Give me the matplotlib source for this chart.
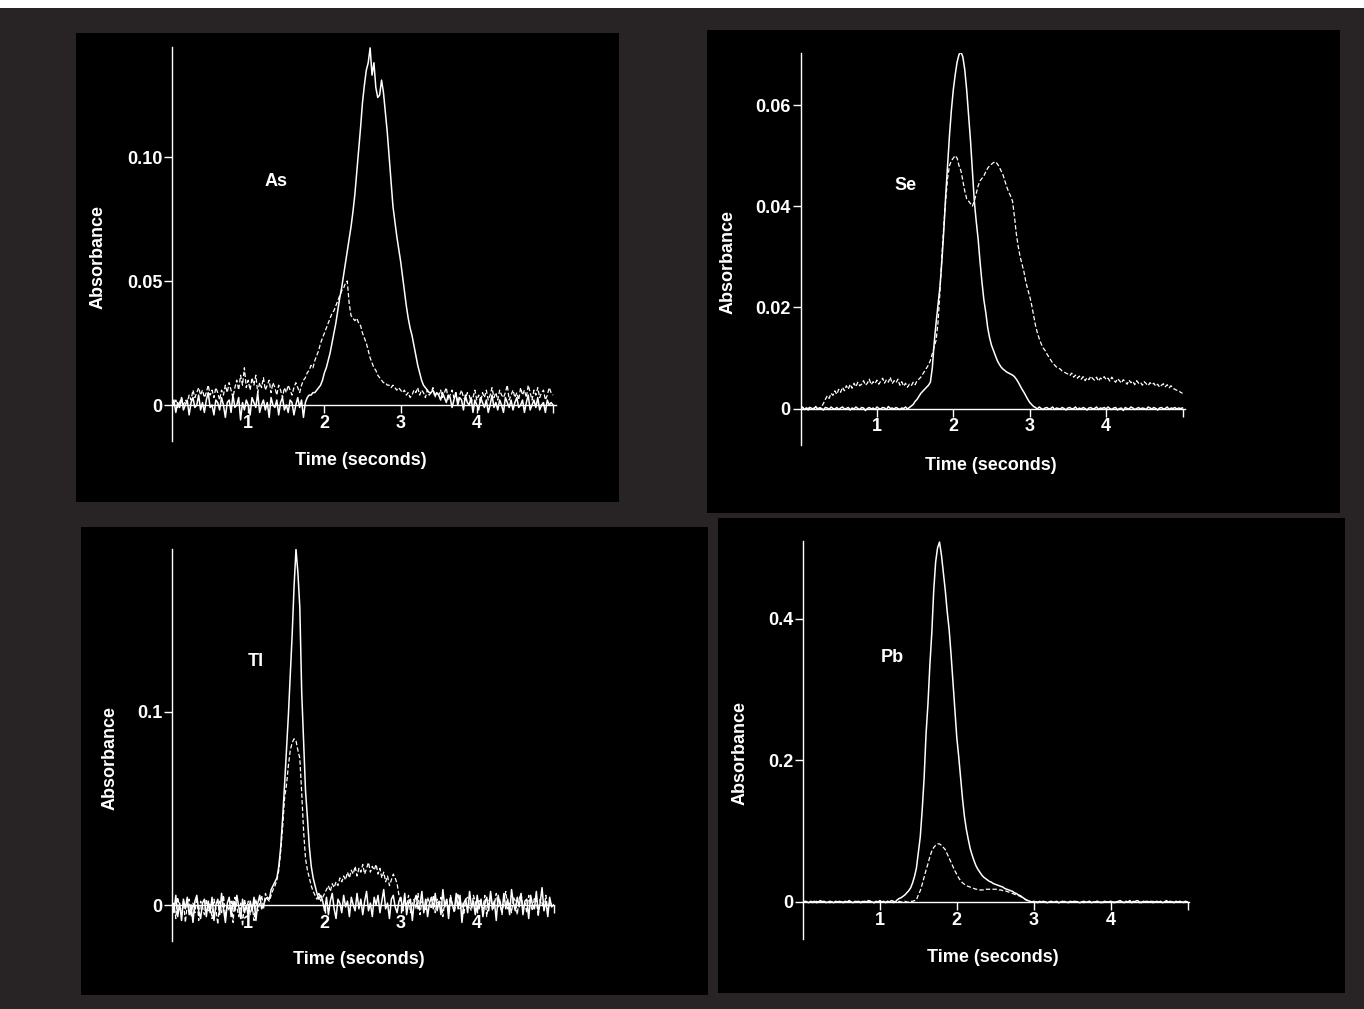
import numpy as np
import matplotlib.pyplot as plt
from matplotlib.patches import Rectangle

# absorbance traces, one reading every 0.025 s from 0 to 5 s
# (each row below = 0.5 s, 20 readings)
DT = 0.025

# As, units of 0.001
as_solid = [
    0, 2, -3, 1, -1, 3, -2, 0, 2, -4, 1, 3, -1, 0, 4, -2, 1, -3, 2, 5,
    -1, 0, -4, 2, 1, -2, 3, 0, -5, 1, 2, -3, 4, -1, 0, 3, -6, 1, -2, 2,
    0, -4, 3, 1, -1, 5, -3, 0, 2, -2, 1, -5, 3, 0, -1, 2, -4, 1, 3, -2,
    0, -3, 2, 1, -4, 0, 3, -1, 2, -5, 1, 3, 4, 4, 5, 5, 6, 7, 8, 10,
    13, 15, 18, 21, 25, 29, 33, 38, 43, 47, 52, 57, 62, 67, 72, 78, 85, 94, 103, 112,
    122, 129, 135, 138, 144, 133, 138, 128, 124, 125, 131, 126, 118, 110, 100, 90, 80, 74, 68, 63,
    58, 52, 46, 40, 35, 31, 28, 24, 20, 16, 13, 10, 8, 7, 6, 5, 5, 6, 4, 5,
    4, 2, 5, 3, 1, 4, 3, -1, 2, 5, 0, 3, 2, -2, 4, 1, 0, 3, -3, 2,
    0, -2, 3, 1, -1, 2, -3, 0, 4, -1, 1, -2, 2, 0, -3, 3, 1, -1, 2, -2,
    1, 3, -1, 0, 2, -3, 1, 4, -2, 0, 2, -1, 3, -2, 0, 1, -3, 2, 0, 1,
    0]
as_dashed = [
    1, 0, 2, -1, 1, 3, 0, 2, 1, 4, 2, 6, 3, 5, 7, 4, 6, 3, 5, 8,
    4, 6, 3, 7, 5, 2, 6, 4, 8, 5, 9, 6, 3, 7, 10, 6, 12, 8, 15, 7,
    10, 6, 11, 8, 12, 5, 9, 7, 11, 6, 8, 10, 5, 9, 7, 4, 8, 6, 3, 7,
    5, 8, 6, 4, 7, 9, 7, 5, 8, 10, 11, 13, 14, 16, 15, 18, 20, 22, 25, 27,
    29, 31, 33, 35, 37, 38, 40, 42, 44, 46, 47, 49, 50, 41, 36, 35, 34, 35, 33, 32,
    29, 27, 25, 22, 19, 17, 15, 14, 12, 11, 10, 9, 9, 8, 8, 7, 8, 7, 6, 7,
    6, 5, 6, 4, 5, 3, 4, 6, 5, 7, 4, 6, 5, 3, 6, 4, 5, 7, 3, 5,
    4, 6, 3, 5, 7, 2, 4, 6, 3, 5, 1, 4, 6, 3, 2, 5, 4, 1, 3, 6,
    2, 4, 1, 5, 3, 6, 2, 4, 7, 3, 5, 2, 6, 4, 3, 5, 8, 2, 4, 6,
    3, 5, 2, 7, 4, 6, 3, 8, 5, 2, 6, 4, 7, 3, 5, 6, 2, 4, 7, 5,
    4]

# Se, units of 0.0001
se_solid = [
    0, 3, -2, 1, -3, 2, 0, -1, 4, -2, 1, 0, -3, 2, 1, -2, 3, 0, -1, 2,
    -2, 1, 3, -1, 0, 2, -3, 1, -1, 3, 0, -2, 2, 1, -4, 0, 2, -1, 1, -2,
    3, 0, -1, 2, 1, -2, 4, 0, 1, -1, 2, 0, -2, 1, 0, 3, -1, 2, 5, 8,
    14, 18, 24, 30, 34, 38, 42, 46, 52, 80, 130, 170, 205, 240, 290, 350, 420, 480, 540, 590,
    630, 660, 685, 700, 705, 695, 670, 630, 580, 530, 470, 410, 370, 335, 290, 250, 215, 190, 160, 140,
    125, 115, 105, 95, 88, 82, 78, 75, 72, 70, 68, 66, 63, 58, 52, 45, 38, 32, 25, 18,
    12, 8, 4, 2, -1, 3, 0, -2, 1, 2, -1, 0, 3, -2, 1, 0, -1, 2, 0, -3,
    1, 2, -1, 0, 3, -2, 1, -1, 2, 0, -3, 1, 2, -1, 0, 3, -2, 1, 0, 2,
    -1, 3, 0, -2, 1, 2, -3, 0, 1, -4, 2, 0, -1, 3, 1, -2, 0, 2, -1, 1,
    0, -2, 3, 1, -1, 2, 0, -3, 1, 2, -1, 0, 3, -2, 1, 0, 2, -1, 1, 0,
    1]
se_dashed = [
    0, 2, -1, 1, 0, 3, -2, 1, 2, 0, 1, 3, 10, 18, 25, 20, 30, 26, 35, 28,
    38, 32, 42, 35, 45, 38, 48, 40, 50, 43, 52, 45, 48, 55, 46, 50, 58, 47, 53, 49,
    56, 48, 54, 60, 50, 57, 52, 62, 49, 55, 51, 58, 46, 53, 44, 50, 42, 48, 45, 52,
    47, 55, 58, 62, 68, 74, 80, 86, 95, 108, 122, 135, 170, 230, 300, 360, 410, 455, 480, 490,
    495, 500, 495, 480, 470, 450, 430, 415, 410, 405, 400, 410, 425, 440, 450, 455, 460, 468, 475, 480,
    483, 486, 488, 484, 478, 470, 462, 450, 438, 428, 420, 410, 380, 345, 320, 300, 285, 270, 250, 235,
    222, 205, 185, 165, 150, 138, 128, 120, 115, 108, 102, 96, 90, 86, 82, 80, 78, 74, 72, 70,
    68, 65, 70, 62, 66, 60, 64, 58, 63, 55, 61, 57, 64, 59, 56, 62, 54, 60, 58, 63,
    57, 60, 54, 62, 56, 52, 59, 55, 50, 57, 53, 48, 56, 51, 54, 47, 55, 50, 52, 46,
    53, 49, 45, 51, 47, 50, 44, 48, 42, 46, 49, 43, 47, 41, 45, 40, 38, 36, 35, 32,
    30]

# Tl, units of 0.001
tl_solid = [
    2, -4, 5, -6, 1, -8, 3, -2, 4, -5, 0, -9, 2, 5, -3, -7, 1, 3, -6, 2,
    -4, 4, -8, 0, 3, -5, 6, -2, -9, 1, 4, -6, 2, -3, 5, -1, -7, 3, -4, 0,
    -6, 2, -3, 4, -8, 1, 5, -2, 0, 3, 4, 3, 8, 10, 12, 14, 20, 30, 45, 62,
    80, 98, 119, 140, 165, 184, 172, 154, 110, 85, 59, 45, 30, 20, 14, 10, 6, 3, 5, 2,
    -3, 4, -5, 2, 6, -2, -7, 3, 1, -4, 5, -1, 2, -6, 4, 0, -3, 6, -2, 3,
    -5, 2, 7, -3, 1, -6, 4, 0, 5, -4, 2, 8, -2, 1, -7, 3, 5, -1, -4, 2,
    4, -3, 6, -5, 1, 3, -8, 2, 5, -2, 0, 7, -4, 3, -6, 1, 4, -2, 6, -3,
    2, -5, 8, -1, 3, -7, 4, 0, -3, 6, -2, 5, -9, 1, 3, -4, 7, -1, 2, -5,
    5, -2, 3, -6, 1, 4, -3, 7, -1, 2, -8, 5, 0, -4, 6, -2, 3, -5, 8, 1,
    -3, 4, -1, 6, -5, 2, 3, -7, 5, 0, -2, 7, -4, 1, 9, -3, 2, -6, 4, -1,
    0]
tl_dashed = [
    -3, 1, -7, 4, -2, -5, 2, -9, 0, 3, -6, 1, -4, 4, -8, 2, -1, -5, 3, -3,
    1, -7, 3, -2, -10, 2, -4, 5, -6, 0, -3, 2, -9, 4, -1, -6, 1, -11, 3, -2,
    2, -5, 0, -8, 3, -3, 1, 5, -2, 6, 3, 2, 5, 8, 10, 13, 18, 28, 40, 55,
    62, 72, 80, 84, 86, 85, 80, 76, 58, 38, 24, 18, 14, 10, 7, 5, 3, 6, 2, 4,
    6, 8, 10, 7, 11, 9, 12, 10, 14, 12, 15, 13, 17, 14, 18, 16, 20, 15, 19, 17,
    21, 16, 19, 22, 17, 20, 18, 21, 16, 19, 14, 17, 12, 15, 10, 13, 16, 14, 11, 5,
    2, -3, 4, -1, 5, -4, 1, 3, -2, 6, -5, 2, 0, -3, 4, 1, -2, 5, -4, 3,
    -1, 4, -6, 2, 3, -3, 5, 0, -4, 2, 6, -2, 1, -5, 3, 4, -1, -3, 5, 2,
    -4, 3, 1, -2, 5, -6, 2, 4, -3, 0, 6, -1, 3, -5, 2, 7, -2, 1, -4, 4,
    2, -5, 3, 6, -2, 1, -4, 5, 0, -3, 4, 2, -6, 3, 1, -2, 5, -3, 2, 0,
    1]

# Pb, units of 0.001
pb_solid = [
    0, 1, 0, -1, 1, 0, 1, -1, 0, 2, 0, 1, -1, 0, 1, 0, -1, 1, 0, 1,
    0, -1, 1, 0, 2, 0, -1, 1, 0, 1, -1, 0, 1, 0, 2, 1, 0, -1, 1, 0,
    2, 0, 1, -1, 1, 0, 2, 1, 0, 3, 5, 6, 8, 10, 13, 16, 20, 27, 36, 48,
    70, 92, 130, 175, 237, 280, 335, 380, 440, 480, 500, 508, 490, 465, 440, 410, 385, 350, 310, 270,
    232, 205, 175, 145, 120, 102, 88, 75, 66, 58, 51, 46, 42, 38, 35, 33, 31, 29, 28, 26,
    25, 24, 23, 22, 21, 19, 18, 17, 16, 15, 13, 12, 10, 9, 7, 5, 3, 2, 1, 0,
    1, 0, -1, 1, 0, 1, 0, -1, 0, 1, 0, 0, 1, -1, 0, 1, 0, 0, -1, 1,
    0, 1, 0, 0, -1, 0, 1, 0, 0, 1, -1, 0, 0, 1, 0, -1, 0, 1, 0, 0,
    1, 0, -1, 0, 1, 2, 0, -1, 1, 0, 2, -1, 0, 1, 2, 0, -1, 1, 0, 1,
    0, 1, -1, 0, 1, 0, 1, -1, 0, 2, 0, 1, 0, -1, 1, 0, 1, 0, 0, 1,
    0]
pb_dashed = [
    0, 0, 1, 0, 0, -1, 0, 1, 0, 0, 1, 0, 0, 0, -1, 0, 1, 0, 0, 1,
    0, 0, 1, 0, 0, 0, -1, 0, 1, 0, 0, 1, 0, 0, 0, 1, 0, -1, 0, 0,
    1, 0, 0, 0, 1, 0, 0, -1, 0, 0, 1, 0, 0, 1, 0, 0, 1, 1, 2, 3,
    10, 16, 25, 35, 45, 54, 64, 72, 77, 80, 82, 82, 80, 77, 74, 68, 62, 56, 50, 44,
    39, 34, 30, 27, 25, 23, 22, 21, 20, 19, 18, 18, 17, 17, 17, 18, 18, 18, 18, 18,
    18, 18, 17, 17, 16, 16, 15, 14, 13, 12, 11, 10, 9, 8, 6, 5, 3, 2, 1, 0,
    0, 1, 0, 0, -1, 0, 0, 1, 0, 0, 0, 1, 0, -1, 0, 0, 1, 0, 0, 0,
    0, 0, 1, 0, 0, 0, -1, 0, 0, 1, 0, 0, 0, 1, 0, 0, -1, 0, 0, 0,
    1, 0, 0, 0, -1, 0, 0, 1, 0, 0, 0, 0, 1, 0, 0, -1, 0, 0, 1, 0,
    0, 0, 1, 0, 0, 0, 0, -1, 0, 1, 0, 0, 0, 0, 1, 0, 0, 0, -1, 0,
    0]

elements = ['As', 'Se', 'Tl', 'Pb']
solids = [as_solid, se_solid, tl_solid, pb_solid]
dasheds = [as_dashed, se_dashed, tl_dashed, pb_dashed]
units = [1e-3, 1e-4, 1e-3, 1e-3]
yticks = [[0, 0.05, 0.10], [0, 0.02, 0.04, 0.06], [0, 0.1], [0, 0.2, 0.4]]
yticklabels = [['0', '0.05', '0.10'], ['0', '0.02', '0.04', '0.06'], ['0', '0.1'], ['0', '0.2', '0.4']]

W, H = 1364, 1009
BG = '#282425'
FONT = ['Liberation Sans', 'DejaVu Sans']
FS = 13

# layout in pixels (top-left origin)
panels = [(76, 33, 619, 502), (707, 30, 1340, 513), (81, 527, 708, 995), (718, 518, 1345, 993)]
# x of t=0, px per second, x end, y of zero, px per unit absorbance, y top, y bottom
axes_px = [(172, 76.2, 556, 405, 2480, 47, 441),
           (800.5, 76.4, 1185, 408.5, 5058, 52.7, 445),
           (172, 76.3, 554, 905, 1933, 549, 941),
           (803, 76.9, 1188.6, 902, 708.5, 541, 938.7)]
ylabel_px = [(98.5, 257), (728, 262), (110, 758), (740, 753)]
xlabel_px = [(361, 461), (991, 465), (359, 960), (993, 958)]
name_px = [(276, 181), (906, 185), (256, 662), (892, 657)]


def frac(x, y):
    return x / W, 1 - y / H


fig = plt.figure(figsize=(W / 100, H / 100), dpi=100)
fig.patch.set_facecolor(BG)
fig.add_artist(Rectangle((0, 1 - 8 / H), 1, 8 / H, transform=fig.transFigure,
                         facecolor='white', edgecolor='none', zorder=-2))

for i in range(4):
    x0, y0, x1, y1 = panels[i]
    fx, fy = frac(x0, y1)
    fig.add_artist(Rectangle((fx, fy), (x1 - x0) / W, (y1 - y0) / H, transform=fig.transFigure,
                             facecolor='black', edgecolor='none', zorder=-2))

    ax0, pps, axend, yz, ppu, ytop, ybot = axes_px[i]
    l, b = frac(ax0, ybot)
    ax = fig.add_axes([l, b, (axend - ax0) / W, (ybot - ytop) / H])
    ax.set_facecolor('none')
    ax.set_xlim(0, (axend - ax0) / pps)
    ax.set_ylim(-(ybot - yz) / ppu, (yz - ytop) / ppu)

    ys = np.array(solids[i]) * units[i]
    yd = np.array(dasheds[i]) * units[i]
    ax.plot(DT * np.arange(len(yd)), yd, color='white', lw=0.9, dashes=(3.5, 1.8))
    ax.plot(DT * np.arange(len(ys)), ys, color='white', lw=1.1)

    for s in ['top', 'right']:
        ax.spines[s].set_visible(False)
    ax.spines['bottom'].set_position(('data', 0))
    for s in ['left', 'bottom']:
        ax.spines[s].set_color('white')
        ax.spines[s].set_linewidth(1.0)
    ax.set_xticks([1, 2, 3, 4, 5])
    ax.set_xticklabels(['1', '2', '3', '4', ''])
    ax.set_yticks(yticks[i])
    ax.set_yticklabels(yticklabels[i])
    ax.tick_params(colors='white', width=1.0, length=5.5, pad=1.5, labelsize=FS)
    for lab in ax.get_xticklabels() + ax.get_yticklabels():
        lab.set_family(FONT)
        lab.set_fontweight('bold')

    fig.text(*frac(*ylabel_px[i]), 'Absorbance', rotation=90, color='white', fontsize=FS,
             fontweight='bold', family=FONT, ha='center', va='center')
    fig.text(*frac(*xlabel_px[i]), 'Time (seconds)', color='white', fontsize=FS,
             fontweight='bold', family=FONT, ha='center', va='center')
    fig.text(*frac(*name_px[i]), elements[i], color='white', fontsize=FS,
             fontweight='bold', family=FONT, ha='center', va='center')

fig.savefig('out.png', dpi=100, facecolor=BG)
